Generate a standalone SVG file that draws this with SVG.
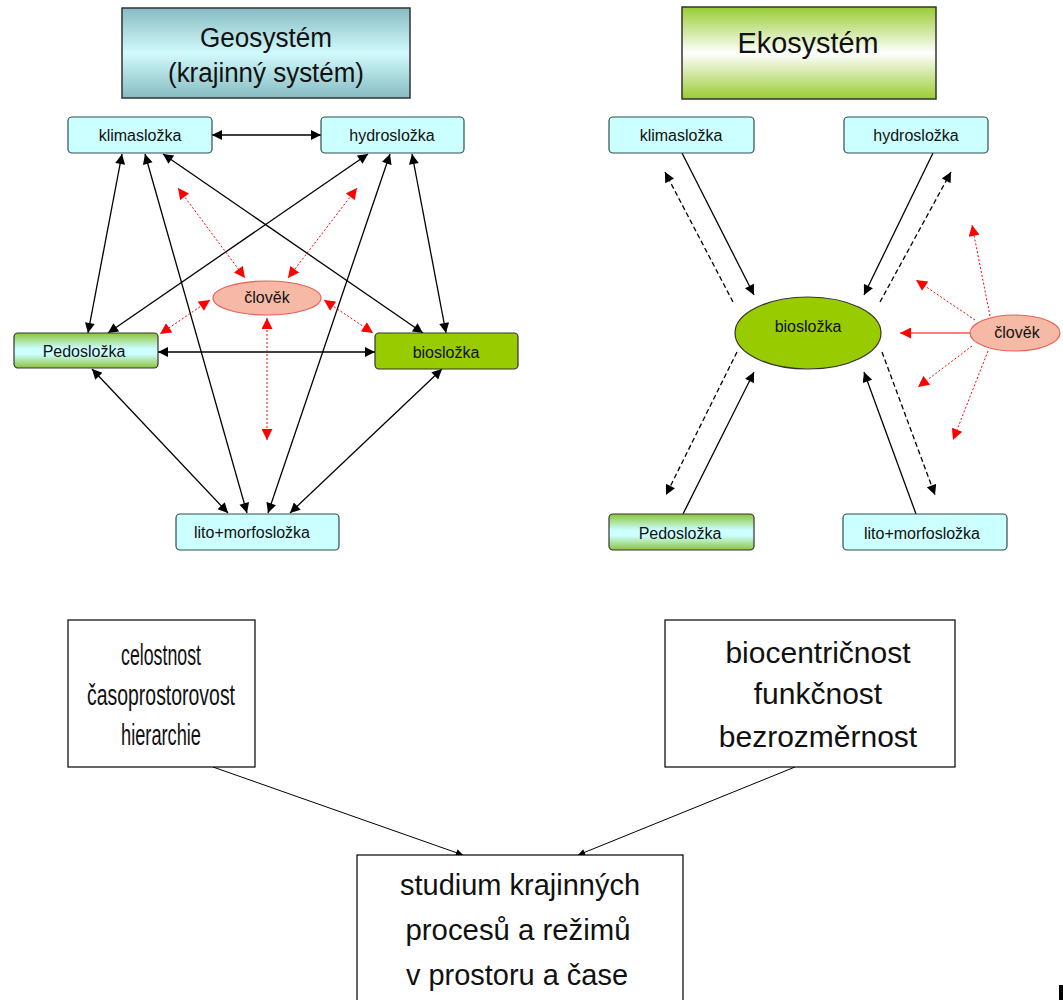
<svg xmlns="http://www.w3.org/2000/svg" width="1063" height="1000" viewBox="0 0 1063 1000">
<defs>
<linearGradient id="gGeo" x1="0" y1="0" x2="0" y2="1">
<stop offset="0" stop-color="#86bcc2"/><stop offset="0.5" stop-color="#d2fafc"/><stop offset="1" stop-color="#86bcc2"/>
</linearGradient>
<linearGradient id="gEko" x1="0" y1="0" x2="0" y2="1">
<stop offset="0" stop-color="#99cc33"/><stop offset="0.5" stop-color="#ffffff"/><stop offset="1" stop-color="#99cc33"/>
</linearGradient>
<linearGradient id="gPedo" x1="0" y1="0" x2="0" y2="1">
<stop offset="0" stop-color="#8cc43a"/><stop offset="0.45" stop-color="#ccffff"/><stop offset="0.6" stop-color="#ccffff"/><stop offset="1" stop-color="#8cc43a"/>
</linearGradient>
<marker id="ab" viewBox="0 0 10 10" refX="10" refY="5" markerWidth="11" markerHeight="10" markerUnits="userSpaceOnUse" orient="auto-start-reverse">
<path d="M0,0 L10,5 L0,10 Z" fill="#000"/>
</marker>
<marker id="ar" viewBox="0 0 10 10" refX="10" refY="5" markerWidth="12" markerHeight="11" markerUnits="userSpaceOnUse" orient="auto-start-reverse">
<path d="M0,0 L10,5 L0,10 Z" fill="#ff0000"/>
</marker>
<marker id="as" viewBox="0 0 10 10" refX="10" refY="5" markerWidth="8" markerHeight="7" markerUnits="userSpaceOnUse" orient="auto">
<path d="M0,0 L10,5 L0,10 Z" fill="#000"/>
</marker>
</defs>
<style>
.lab{font-family:"Liberation Sans",Arial,sans-serif;font-size:16px;fill:#111;text-anchor:middle}
.ttl{font-family:"Liberation Sans",Arial,sans-serif;fill:#111;text-anchor:middle}
.big{font-family:"Liberation Sans",Arial,sans-serif;font-size:30px;fill:#111;text-anchor:middle}
.box{fill:#ccffff;stroke:#2f4f4f;stroke-width:1.2}
.c{stroke:#000;stroke-width:1.3;fill:none}
.d{stroke:#000;stroke-width:1.3;fill:none;stroke-dasharray:5 3}
.r{stroke:#ff0000;stroke-width:1;fill:none;stroke-dasharray:2 2}
.rs{stroke:#ff0000;stroke-width:1;fill:none}
.w{fill:#fff;stroke:#000;stroke-width:1.2}
</style>
<rect width="1063" height="1000" fill="#fff"/>

<g id="geosystem">
<rect x="122" y="8" width="288" height="90" fill="url(#gGeo)" stroke="#333" stroke-width="1.5"/>
<text class="ttl" x="266" y="47" font-size="27" textLength="132" lengthAdjust="spacingAndGlyphs">Geosystém</text>
<text class="ttl" x="266" y="82" font-size="27" textLength="196" lengthAdjust="spacingAndGlyphs">(krajinný systém)</text>
</g>
<g id="ekosystem">
<rect x="682" y="7" width="254" height="92" fill="url(#gEko)" stroke="#333" stroke-width="1.5"/>
<text class="ttl" x="808" y="53" font-size="29" textLength="141" lengthAdjust="spacingAndGlyphs">Ekosystém</text>
</g>

<g id="connectors">
<line class="c" x1="212" y1="135" x2="321" y2="135" marker-start="url(#ab)" marker-end="url(#ab)"/>
<line class="c" x1="122" y1="154" x2="88" y2="333" marker-start="url(#ab)" marker-end="url(#ab)"/>
<line class="c" x1="145" y1="154" x2="247" y2="513" marker-start="url(#ab)" marker-end="url(#ab)"/>
<line class="c" x1="163" y1="154" x2="423" y2="333" marker-start="url(#ab)" marker-end="url(#ab)"/>
<line class="c" x1="368" y1="154" x2="108" y2="333" marker-start="url(#ab)" marker-end="url(#ab)"/>
<line class="c" x1="390" y1="154" x2="268" y2="513" marker-start="url(#ab)" marker-end="url(#ab)"/>
<line class="c" x1="412" y1="154" x2="446" y2="333" marker-start="url(#ab)" marker-end="url(#ab)"/>
<line class="c" x1="158" y1="352" x2="375" y2="352" marker-start="url(#ab)" marker-end="url(#ab)"/>
<line class="c" x1="92" y1="369" x2="228" y2="513" marker-start="url(#ab)" marker-end="url(#ab)"/>
<line class="c" x1="442" y1="369" x2="290" y2="513" marker-start="url(#ab)" marker-end="url(#ab)"/>
<line class="r" x1="178" y1="188" x2="245" y2="278" marker-start="url(#ar)" marker-end="url(#ar)"/>
<line class="r" x1="357" y1="188" x2="288" y2="278" marker-start="url(#ar)" marker-end="url(#ar)"/>
<line class="r" x1="210" y1="300" x2="160" y2="334" marker-start="url(#ar)" marker-end="url(#ar)"/>
<line class="r" x1="324" y1="300" x2="373" y2="333" marker-start="url(#ar)" marker-end="url(#ar)"/>
<line class="r" x1="267" y1="318" x2="267" y2="440" marker-start="url(#ar)" marker-end="url(#ar)"/>
<line class="c" x1="682" y1="153" x2="754" y2="295" marker-end="url(#ab)"/>
<line class="d" x1="733" y1="302" x2="665" y2="172" marker-end="url(#ab)"/>
<line class="c" x1="933" y1="153" x2="864" y2="295" marker-end="url(#ab)"/>
<line class="d" x1="880" y1="302" x2="951" y2="172" marker-end="url(#ab)"/>
<line class="c" x1="683" y1="514" x2="754" y2="372" marker-end="url(#ab)"/>
<line class="d" x1="737" y1="352" x2="666" y2="495" marker-end="url(#ab)"/>
<line class="c" x1="916" y1="514" x2="864" y2="372" marker-end="url(#ab)"/>
<line class="d" x1="882" y1="352" x2="935" y2="495" marker-end="url(#ab)"/>
<line class="rs" x1="970" y1="333" x2="900" y2="333" marker-end="url(#ar)"/>
<line class="r" x1="975" y1="320" x2="916" y2="280" marker-end="url(#ar)"/>
<line class="r" x1="990" y1="316" x2="972" y2="225" marker-end="url(#ar)"/>
<line class="r" x1="972" y1="346" x2="918" y2="387" marker-end="url(#ar)"/>
<line class="r" x1="988" y1="351" x2="953" y2="440" marker-end="url(#ar)"/>
<line stroke="#000" stroke-width="1" x1="213" y1="767" x2="463" y2="855" marker-end="url(#as)"/>
<line stroke="#000" stroke-width="1" x1="795" y1="767" x2="578" y2="855" marker-end="url(#as)"/>
</g>

<g id="l-klima"><rect class="box" x="68" y="117" width="144" height="36" rx="4"/><text class="lab" x="140" y="141">klimasložka</text></g>
<g id="l-hydro"><rect class="box" x="321" y="117" width="143" height="36" rx="4"/><text class="lab" x="392" y="141">hydrosložka</text></g>
<g id="l-clovek"><ellipse cx="267" cy="298" rx="54" ry="17" fill="#f6b9a6" stroke="#e8605a" stroke-width="1.2"/><text class="lab" x="267" y="303" font-size="14">člověk</text></g>
<g id="l-pedo"><rect x="14" y="333" width="144" height="35" rx="4" fill="url(#gPedo)" stroke="#333" stroke-width="1.2"/><text class="lab" x="84" y="357">Pedosložka</text></g>
<g id="l-bio"><rect x="375" y="333" width="143" height="36" rx="4" fill="#99cc00" stroke="#333" stroke-width="1.2"/><text class="lab" x="446" y="358">biosložka</text></g>
<g id="l-lito"><rect class="box" x="176" y="514" width="163" height="36" rx="4"/><text class="lab" x="252" y="538">lito+morfosložka</text></g>

<g id="r-klima"><rect class="box" x="609" y="117" width="145" height="36" rx="4"/><text class="lab" x="681" y="141">klimasložka</text></g>
<g id="r-hydro"><rect class="box" x="844" y="117" width="144" height="36" rx="4"/><text class="lab" x="916" y="141">hydrosložka</text></g>
<g id="r-bio"><ellipse cx="808" cy="333" rx="73" ry="36" fill="#99cc00" stroke="#333" stroke-width="1.2"/><text class="lab" x="808" y="332">biosložka</text></g>
<g id="r-clovek"><ellipse cx="1015" cy="333" rx="45" ry="18" fill="#f6b9a6" stroke="#e8605a" stroke-width="1.2"/><text class="lab" x="1017" y="338" font-size="14">člověk</text></g>
<g id="r-pedo"><rect x="609" y="514" width="145" height="36" rx="4" fill="url(#gPedo)" stroke="#333" stroke-width="1.2"/><text class="lab" x="680" y="539">Pedosložka</text></g>
<g id="r-lito"><rect class="box" x="843" y="514" width="164" height="36" rx="4"/><text class="lab" x="922" y="539">lito+morfosložka</text></g>

<g id="b-geo"><rect class="w" x="68" y="620" width="187" height="147"/>
<text class="big" x="161" y="665" textLength="80" lengthAdjust="spacingAndGlyphs">celostnost</text>
<text class="big" x="161" y="705" textLength="148" lengthAdjust="spacingAndGlyphs">časoprostorovost</text>
<text class="big" x="161" y="745" textLength="80" lengthAdjust="spacingAndGlyphs">hierarchie</text>
</g>
<g id="b-eko"><rect class="w" x="665" y="620" width="290" height="147"/>
<text class="big" x="818" y="663">biocentričnost</text>
<text class="big" x="818" y="704">funkčnost</text>
<text class="big" x="818" y="747">bezrozměrnost</text>
</g>
<g id="b-studium"><rect class="w" x="357" y="855" width="326" height="150"/>
<text class="big" x="520" y="895" textLength="240" lengthAdjust="spacingAndGlyphs">studium krajinných</text>
<text class="big" x="518" y="940" textLength="225" lengthAdjust="spacingAndGlyphs">procesů a režimů</text>
<text class="big" x="517" y="985" textLength="222" lengthAdjust="spacingAndGlyphs">v prostoru a čase</text>
</g>
<rect x="1059" y="985" width="4" height="15" fill="#000"/>
</svg>
